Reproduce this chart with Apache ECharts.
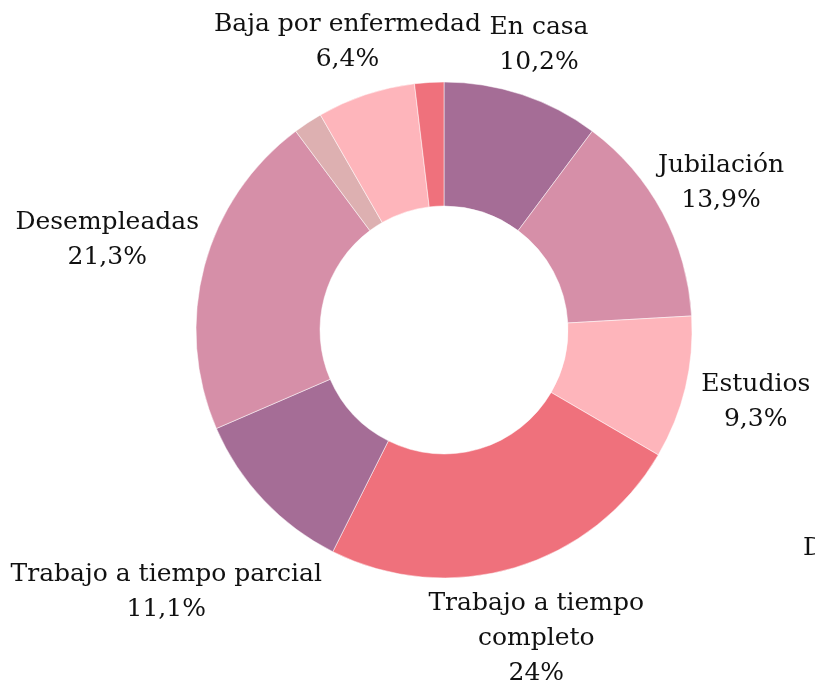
<!DOCTYPE html>
<html>
<head>
<meta charset="utf-8">
<script src="https://cdn.jsdelivr.net/npm/echarts@6/dist/echarts.min.js"></script>
<style>
  html, body { margin: 0; padding: 0; background: #fff; }
  #main { width: 815px; height: 692px; }
</style>
</head>
<body>
<div id="main"></div>
<script>
// categorias en sentido horario desde arriba
var categorias = ['En casa', 'Jubilación', 'Estudios', 'Trabajo a tiempo\ncompleto',
    'Trabajo a tiempo parcial', 'Desempleadas', 'Otros', 'Baja por enfermedad', 'Discapacidad'];
var porcentajes = [10.2, 13.9, 9.3, 24, 11.1, 21.3, 1.9, 6.4, 1.9];
var colores = ['#a56d96', '#d68fa8', '#feb5bb', '#ef717c', '#a56d96', '#d68fa8', '#ddb0b1', '#feb5bb', '#ef717c'];
var sinEtiqueta = ['Otros', 'Discapacidad'];

var fuente = 'DejaVu Serif';
var centro = [444, 330];
var radioEtiqueta = 265;
// pequeños desplazamientos de etiquetas (dx, dy)
var ajustes = {
    'En casa': [-4, 0],
    'Jubilación': [-12, -5],
    'Estudios': [1, 2],
    'Trabajo a tiempo\ncompleto': [-14, 4],
    'Trabajo a tiempo parcial': [28, 56],
    'Desempleadas': [8, -13],
    'Baja por enfermedad': [29, -3]
};

var total = 0;
for (var k = 0; k < porcentajes.length; k++) total += porcentajes[k];

var datos = [];
for (var i = 0; i < categorias.length; i++) {
    var obj = {
        name: categorias[i],
        value: porcentajes[i],
        itemStyle: { color: colores[i] }
    };
    if (sinEtiqueta.indexOf(categorias[i]) >= 0) {
        obj.label = { show: false };
    }
    datos.push(obj);
}

// angulo medio de cada porción (desde arriba, sentido horario)
function anguloMedio(idx) {
    var acum = 0;
    for (var j = 0; j < idx; j++) acum += porcentajes[j];
    acum += porcentajes[idx] / 2;
    return acum / total * Math.PI * 2;
}

var myChart = echarts.init(document.getElementById('main'));
var option = {
    animation: false,
    series: [{
        type: 'pie',
        center: centro,
        radius: [124, 248],
        startAngle: 90,
        clockwise: true,
        data: datos,
        itemStyle: { borderColor: '#fff', borderWidth: 0.5 },
        label: {
            show: true,
            position: 'outside',
            fontFamily: fuente,
            fontSize: 25,
            lineHeight: 35,
            color: '#111',
            overflow: 'none',
            formatter: function (p) {
                return p.name + '\n' + String(p.value).replace('.', ',') + '%';
            }
        },
        labelLine: { show: false, length: 10, length2: 0 },
        labelLayout: function (params) {
            var a = anguloMedio(params.dataIndex);
            var dx = Math.sin(a), dy = -Math.cos(a);
            var w = params.labelRect.width, h = params.labelRect.height;
            var x = centro[0] + radioEtiqueta * dx + w / 2 * dx;
            var y = centro[1] + radioEtiqueta * dy + h / 2 * dy;
            var adj = ajustes[categorias[params.dataIndex]];
            if (adj) { x += adj[0]; y += adj[1]; }
            return { x: x, y: y, align: 'center', verticalAlign: 'middle' };
        }
    }],
    graphic: [{
        type: 'text',
        left: 803,
        top: 536,
        style: { text: 'Discapacidad', font: '25px "DejaVu Serif"', fill: '#111' }
    }]
};
myChart.setOption(option);
</script>
</body>
</html>
